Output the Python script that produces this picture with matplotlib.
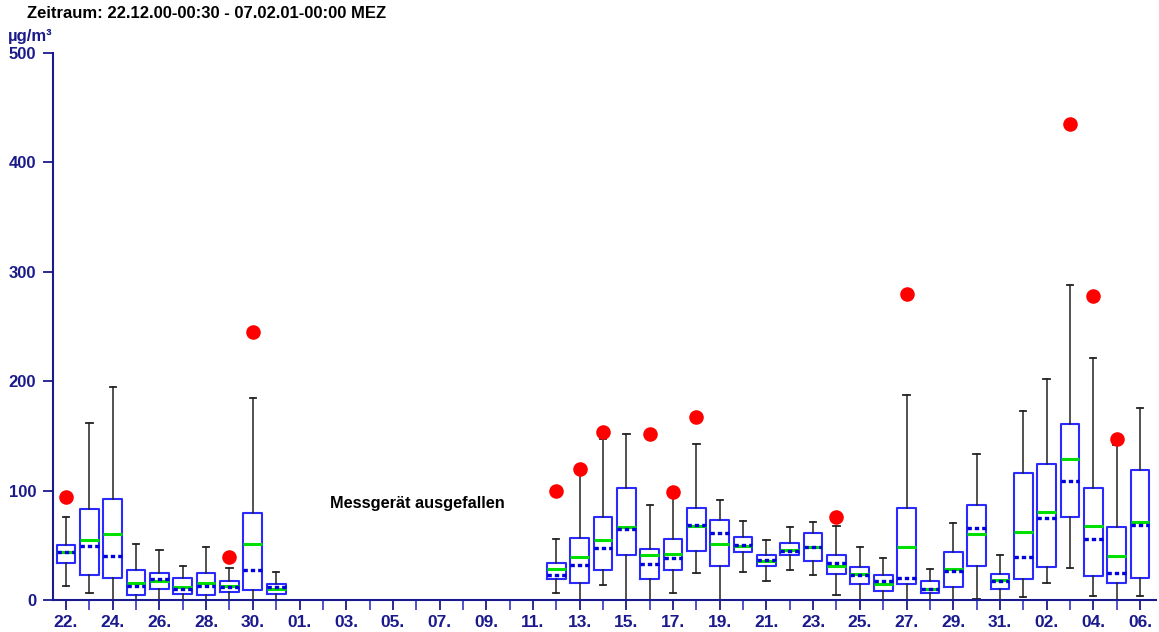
import numpy as np
import matplotlib
matplotlib.use("Agg")
import matplotlib.pyplot as plt

plt.rcParams['font.family'] = ['Liberation Sans', 'DejaVu Sans']
plt.rcParams['font.weight'] = 'bold'

NAVY = '#1a1a8c'

# day index 0 = 22.12.00, one position per day up to 06.02.01
day_pos = [0, 1, 2, 3, 4, 5, 6, 7, 8, 9,
           21, 22, 23, 24, 25, 26, 27, 28, 29, 30, 31, 32, 33,
           34, 35, 36, 37, 38, 39, 40, 41, 42, 43, 44, 45, 46]
whis_lo = [13, 6, 0, 0, 0, 0, 0, 0, 0, 0,
           6, 0, 14, 0, 0, 6.5, 24.5, 0, 25.5, 17, 27.5, 22.5, 4.5,
           0, 0, 0, 0, 0, 1, 0, 2.5, 16, 29, 3.5, 0, 3.5]
q1 = [33.5, 22.5, 20, 4.6, 10, 5.2, 4.3, 7.6, 9, 5.2,
      19, 15.5, 27, 41, 19.5, 27, 44.5, 31, 44, 31, 41, 36, 23.5,
      15, 8.5, 14.5, 6, 12, 31, 10.5, 19, 30.5, 75.5, 22, 16, 20]
median = [44, 55, 60.5, 16, 17.5, 12, 15.5, 13, 51.5, 10,
          28, 39.5, 55, 67, 41.5, 42, 68, 51, 49.5, 36, 45.5, 48, 31.5,
          23.5, 15, 48, 10.5, 28.5, 60.5, 18.5, 62, 80.5, 129, 68, 40.5, 71]
mean = [44, 49, 40, 13, 19, 10, 12.5, 12, 27, 11.5,
        23, 32, 47.5, 65, 32.5, 38, 68.5, 61, 50.5, 36.5, 45, 48.5, 34,
        23, 17, 20.5, 10.5, 26.5, 65.5, 17.5, 39.5, 75, 108.5, 56, 25, 68.5]
q3 = [50.6, 83, 92.5, 27.5, 25, 20.5, 24.7, 17, 79.5, 14.5,
      34, 56.5, 75.5, 102.5, 46.5, 55.5, 84, 73.5, 57.5, 41, 52.5, 61.5, 41.5,
      30, 22.5, 84, 17, 44, 87, 24, 116, 124.5, 160.5, 102, 66.5, 119]
whis_hi = [76, 162, 195, 51, 45.5, 31, 48.5, 29.5, 185, 26,
           56, 117, 147.5, 152, 86.5, 97.5, 142.5, 91, 72.5, 54.5, 67, 71.5, 67.5,
           48, 38, 187, 28.5, 70.5, 133.5, 41, 173, 202, 287.5, 221, 141.5, 175]
maximum = [94.5, np.nan, np.nan, np.nan, np.nan, np.nan, np.nan, 39.5, 244.5, np.nan,
           100, 120, 153.5, np.nan, 152, 99, 167, np.nan, np.nan, np.nan, np.nan, np.nan, 76,
           np.nan, np.nan, 279.5, np.nan, np.nan, np.nan, np.nan, np.nan, np.nan, 435, 278, 147, np.nan]

tick_labels = ['22.', '24.', '26.', '28.', '30.', '01.', '03.', '05.', '07.', '09.',
               '11.', '13.', '15.', '17.', '19.', '21.', '23.', '25.', '27.', '29.',
               '31.', '02.', '04.', '06.']

stats = []
for i in range(len(day_pos)):
    stats.append(dict(whislo=whis_lo[i], q1=q1[i], med=median[i], mean=mean[i],
                      q3=q3[i], whishi=whis_hi[i], fliers=[]))

fig = plt.figure(figsize=(11.59, 6.32), dpi=100)
ax = fig.add_axes([0.0457, 0.0506, 0.952, 0.866])

ax.bxp(stats, positions=day_pos, widths=0.8, capwidths=0.27,
       showmeans=True, meanline=True, showfliers=False,
       boxprops=dict(color='#2a2aff', linewidth=1.5),
       whiskerprops=dict(color='#222222', linewidth=1.1),
       capprops=dict(color='#222222', linewidth=1.3),
       medianprops=dict(color='#00e000', linewidth=2.2),
       meanprops=dict(color='#0000dd', linewidth=2.4, linestyle=(0, (1.3, 0.9))))

ax.scatter(day_pos, maximum, s=110, color='#ff0000', zorder=5, linewidths=0)

ax.set_xlim(-0.56, 46.7)
ax.set_ylim(0, 500)
ax.set_yticks([0, 100, 200, 300, 400, 500])
ax.set_xticks(range(0, 47, 2))
ax.set_xticklabels(tick_labels)
ax.set_xticks(range(1, 47, 2), minor=True)

for s in ['top', 'right']:
    ax.spines[s].set_visible(False)
for s in ['left', 'bottom']:
    ax.spines[s].set_color(NAVY)
    ax.spines[s].set_linewidth(1.5)

ax.tick_params(axis='both', which='both', colors=NAVY, direction='out',
               length=7, width=1.3, labelsize=12.5)
ax.tick_params(axis='x', which='minor', colors='#4444cc')
ax.tick_params(axis='y', labelsize=12, pad=5)
for lab in ax.get_xticklabels() + ax.get_yticklabels():
    lab.set_fontweight('bold')

ax.text(11.3, 88, 'Messgerät ausgefallen', fontsize=11.8, fontweight='bold',
        color='black', ha='left', va='center')

fig.text(27 / 1159, 1 - 13 / 632, 'Zeitraum: 22.12.00-00:30 - 07.02.01-00:00 MEZ',
         fontsize=12, fontweight='bold', color='black', ha='left', va='center')
fig.text(8 / 1159, 1 - 37 / 632, 'µg/m³', fontsize=12, fontweight='bold',
         color=NAVY, ha='left', va='center')

fig.savefig('out.png', dpi=100)
